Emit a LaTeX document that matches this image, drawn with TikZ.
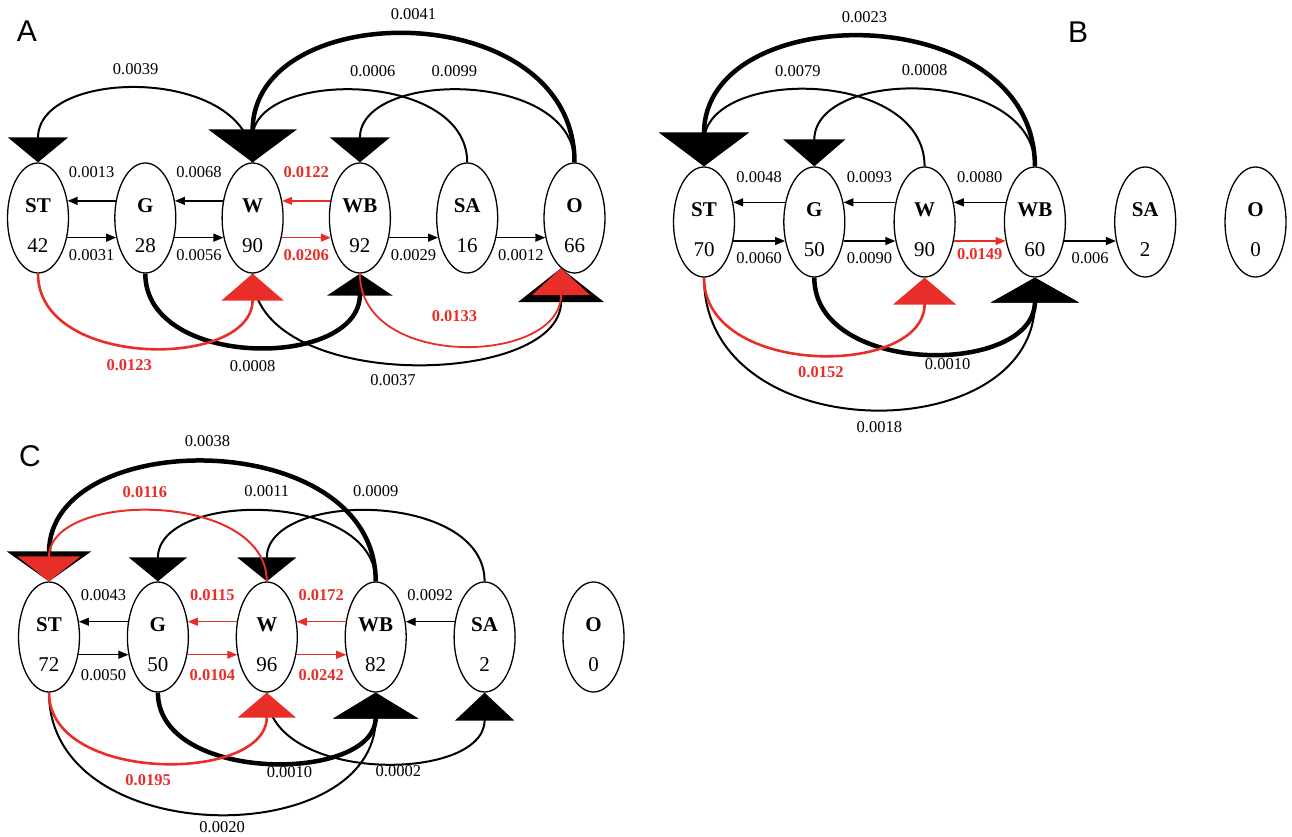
\documentclass[tikz,border=0pt]{standalone}
\usepackage{fontspec}
\setmainfont{Liberation Serif}
\newfontfamily\panelfont{Liberation Sans}
\usetikzlibrary{arrows.meta,
                chains,
                positioning,
                shapes.geometric
                }
\definecolor{flowred}{RGB}{232,46,40}

\begin{document}
\begin{tikzpicture}[x=1pt, y=1pt,
    stage/.style = {shape=ellipse, draw, line width=1.3pt, inner sep=0pt,
                    minimum width=61pt, minimum height=110pt, align=center,
                    text height=69pt, font=\fontsize{21}{40}\selectfont},
    rate/.style = {font=\fontsize{16.5}{18}\selectfont, inner sep=1pt},
     hot/.style = {rate, text=flowred, font=\bfseries\fontsize{16.5}{18}\selectfont},
    flow/.style = {line width=1.3pt, -{Triangle[length=10pt,width=8pt]}},
 hotflow/.style = {flow, flowred},
    jump/.style args = {#1/#2}{line width=2pt, -{Triangle[width=#1,length=#2]}},
     fat/.style = {line width=4.5pt},
   panel/.style = {font=\panelfont\fontsize{30}{30}\selectfont}
                    ]
\useasboundingbox (0,0) rectangle (1292,836);

% panel A
\node (lA) [panel] at (27,805) {A};
    \begin{scope}[start chain=going right, node distance=45pt]
\node (aST) [stage, on chain] at (38,618) {\textbf{ST}\\42};
\node (aG)  [stage, on chain] {\textbf{G}\\28};
\node (aW)  [stage, on chain] {\textbf{W}\\90};
\node (aWB) [stage, on chain] {\textbf{WB}\\92};
\node (aSA) [stage, on chain] {\textbf{SA}\\16};
\node (aO)  [stage, on chain] {\textbf{O}\\66};
    \end{scope}
\draw[flow] (aG.150) -- (aST.30) node[rate, midway, above=21pt] {0.0013};
\draw[flow] (aST.-34) -- (aG.214) node[rate, midway, below=10pt] {0.0031};
\draw[flow] (aW.150) -- (aG.30) node[rate, midway, above=21pt] {0.0068};
\draw[flow] (aG.-34) -- (aW.214) node[rate, midway, below=10pt] {0.0056};
\draw[hotflow] (aWB.150) -- (aW.30) node[hot, midway, above=21pt] {0.0122};
\draw[hotflow] (aW.-34) -- (aWB.214) node[hot, midway, below=10pt] {0.0206};
\draw[flow] (aWB.-34) -- (aSA.214) node[rate, midway, below=10pt] {0.0029};
\draw[flow] (aSA.-34) -- (aO.214) node[rate, midway, below=10pt] {0.0012};

\draw[jump=60pt/25pt] (aW.north) .. controls +(0,96) and +(0,96) .. (aST.north)
    node[rate, pos=0.53, above=14pt] {0.0039};
\draw[jump=60pt/25pt] (aSA.north) .. controls +(0,93) and +(0,93) .. (aW.north)
    node[rate, pos=0.46, above=14pt] {0.0006};
\draw[jump=88pt/33pt, fat] (aO.north) .. controls +(0,167) and +(0,167) .. (aW.north)
    node[rate, pos=0.5, above=14pt] {0.0041};
\draw[jump=60pt/25pt] (aO.north) .. controls +(0,93) and +(0,93) .. (aWB.north)
    node[rate, pos=0.54, above=14pt] {0.0099};
\draw[jump=65pt/22pt, fat] (aG.south) .. controls +(0,-96) and +(0,-96) .. (aWB.south)
    node[rate, pos=0.5, below=12pt] {0.0008};
\draw[jump=86pt/34pt] (aW.south) .. controls +(0,-120) and +(0,-120) .. (aO.255)
    node[rate, pos=0.47, below=12pt] {0.0037};
\draw[jump=62pt/27pt, flowred, line width=2.6pt] (aST.south) .. controls +(0,-96) and +(0,-96) .. (aW.south)
    node[hot, pos=0.45, below=12pt] {0.0123};
\draw[jump=58pt/27pt, flowred, line width=1.8pt] (aWB.south) .. controls +(0,-97) and +(0,-97) .. (aO.255)
    node[hot, pos=0.48, above=20pt] {0.0133};

% panel B
\node (lB) [panel] at (1078,804) {B};
    \begin{scope}[start chain=going right, node distance=48pt,
                  every node/.append style={minimum width=63pt}]
\node (bST) [stage, on chain] at (704,614) {\textbf{ST}\\70};
\node (bG)  [stage, on chain] {\textbf{G}\\50};
\node (bW)  [stage, on chain] {\textbf{W}\\90};
\node (bWB) [stage, on chain] {\textbf{WB}\\60};
\node (bSA) [stage, on chain] {\textbf{SA}\\2};
\node (bO)  [stage, on chain] {\textbf{O}\\0};
    \end{scope}
\draw[flow] (bG.146) -- (bST.34) node[rate, midway, above=18pt] {0.0048};
\draw[flow] (bST.-33) -- (bG.213) node[rate, midway, below=10pt] {0.0060};
\draw[flow] (bW.146) -- (bG.34) node[rate, midway, above=18pt] {0.0093};
\draw[flow] (bG.-33) -- (bW.213) node[rate, midway, below=10pt] {0.0090};
\draw[flow] (bWB.146) -- (bW.34) node[rate, midway, above=18pt] {0.0080};
\draw[hotflow] (bW.-33) -- (bWB.213) node[hot, midway, below=6pt] {0.0149};
\draw[flow] (bWB.-33) -- (bSA.213) node[rate, midway, below=10pt] {0.006};

\draw[jump=90pt/34pt, fat] (bWB.north) .. controls +(0,169) and +(0,169) .. (bST.north)
    node[rate, pos=0.51, above=14pt] {0.0023};
\draw[jump=60pt/25pt] (bW.north) .. controls +(0,99) and +(0,99) .. (bST.north)
    node[rate, pos=0.55, above=14pt] {0.0079};
\draw[jump=62pt/27pt] (bWB.north) .. controls +(0,99) and +(0,99) .. (bG.north)
    node[rate, pos=0.5, above=14pt] {0.0008};
\draw[jump=88pt/25pt] (bST.south) .. controls +(0,-173) and +(0,-173) .. (bWB.south)
    node[rate, pos=0.52, below=12pt] {0.0018};
\draw[jump=88pt/25pt, fat] (bG.south) .. controls +(0,-99) and +(0,-99) .. (bWB.south)
    node[rate, pos=0.57, below=5pt] {0.0010};
\draw[jump=63pt/27pt, flowred, line width=2.6pt] (bST.south) .. controls +(0,-100) and +(0,-100) .. (bW.south)
    node[hot, pos=0.52, below=12pt] {0.0152};

% panel C
\node (lC) [panel] at (30,380) {C};
    \begin{scope}[start chain=going right, node distance=46.6pt,
                  every node/.append style={minimum width=63pt, minimum height=103pt,
                                            text depth=-6pt}]
\node (cST) [stage, on chain] at (49,199) {\textbf{ST}\\72};
\node (cG)  [stage, on chain] {\textbf{G}\\50};
\node (cW)  [stage, on chain] {\textbf{W}\\96};
\node (cWB) [stage, on chain] {\textbf{WB}\\82};
\node (cSA) [stage, on chain] {\textbf{SA}\\2};
\node (cO)  [stage, on chain] {\textbf{O}\\0};
    \end{scope}
\draw[flow] (cG.153) -- (cST.27) node[rate, midway, above=19pt] {0.0043};
\draw[flow] (cST.-31) -- (cG.211) node[rate, midway, below=13pt] {0.0050};
\draw[hotflow] (cW.153) -- (cG.27) node[hot, midway, above=19pt] {0.0115};
\draw[hotflow] (cG.-31) -- (cW.211) node[hot, midway, below=13pt] {0.0104};
\draw[hotflow] (cWB.153) -- (cW.27) node[hot, midway, above=19pt] {0.0172};
\draw[hotflow] (cW.-31) -- (cWB.211) node[hot, midway, below=13pt] {0.0242};
\draw[flow] (cSA.153) -- (cWB.27) node[rate, midway, above=19pt] {0.0092};

\draw[jump=84pt/30pt, fat] (cWB.north) .. controls +(0,156) and +(0,156) .. (cST.north)
    node[rate, pos=0.51, above=14pt] {0.0038};
\draw[jump=58pt/24pt] (cWB.north) .. controls +(0,91) and +(0,91) .. (cG.north)
    node[rate, pos=0.5, above=14pt] {0.0011};
\draw[jump=59pt/24pt] (cSA.north) .. controls +(0,91) and +(0,91) .. (cW.north)
    node[rate, pos=0.5, above=14pt] {0.0009};
\draw[jump=63pt/25pt, flowred] (cW.north) .. controls +(0,91) and +(0,91) .. (cST.north)
    node[hot, pos=0.54, above=14pt] {0.0116};
\draw[jump=85pt/26pt] (cST.south) .. controls +(0,-159) and +(0,-159) .. (cWB.south)
    node[rate, pos=0.52, below=8pt] {0.0020};
\draw[jump=85pt/26pt, fat] (cG.south) .. controls +(0,-91) and +(0,-91) .. (cWB.south)
    node[rate, pos=0.57, below=4pt] {0.0010};
\draw[jump=59pt/28pt] (cW.south) .. controls +(0,-91) and +(0,-91) .. (cSA.south)
    node[rate, pos=0.57, below=4pt] {0.0002};
\draw[jump=58pt/25pt, flowred, line width=2.6pt] (cST.south) .. controls +(0,-91) and +(0,-91) .. (cW.south)
    node[hot, pos=0.47, below=12pt] {0.0195};
\end{tikzpicture}
\end{document}
